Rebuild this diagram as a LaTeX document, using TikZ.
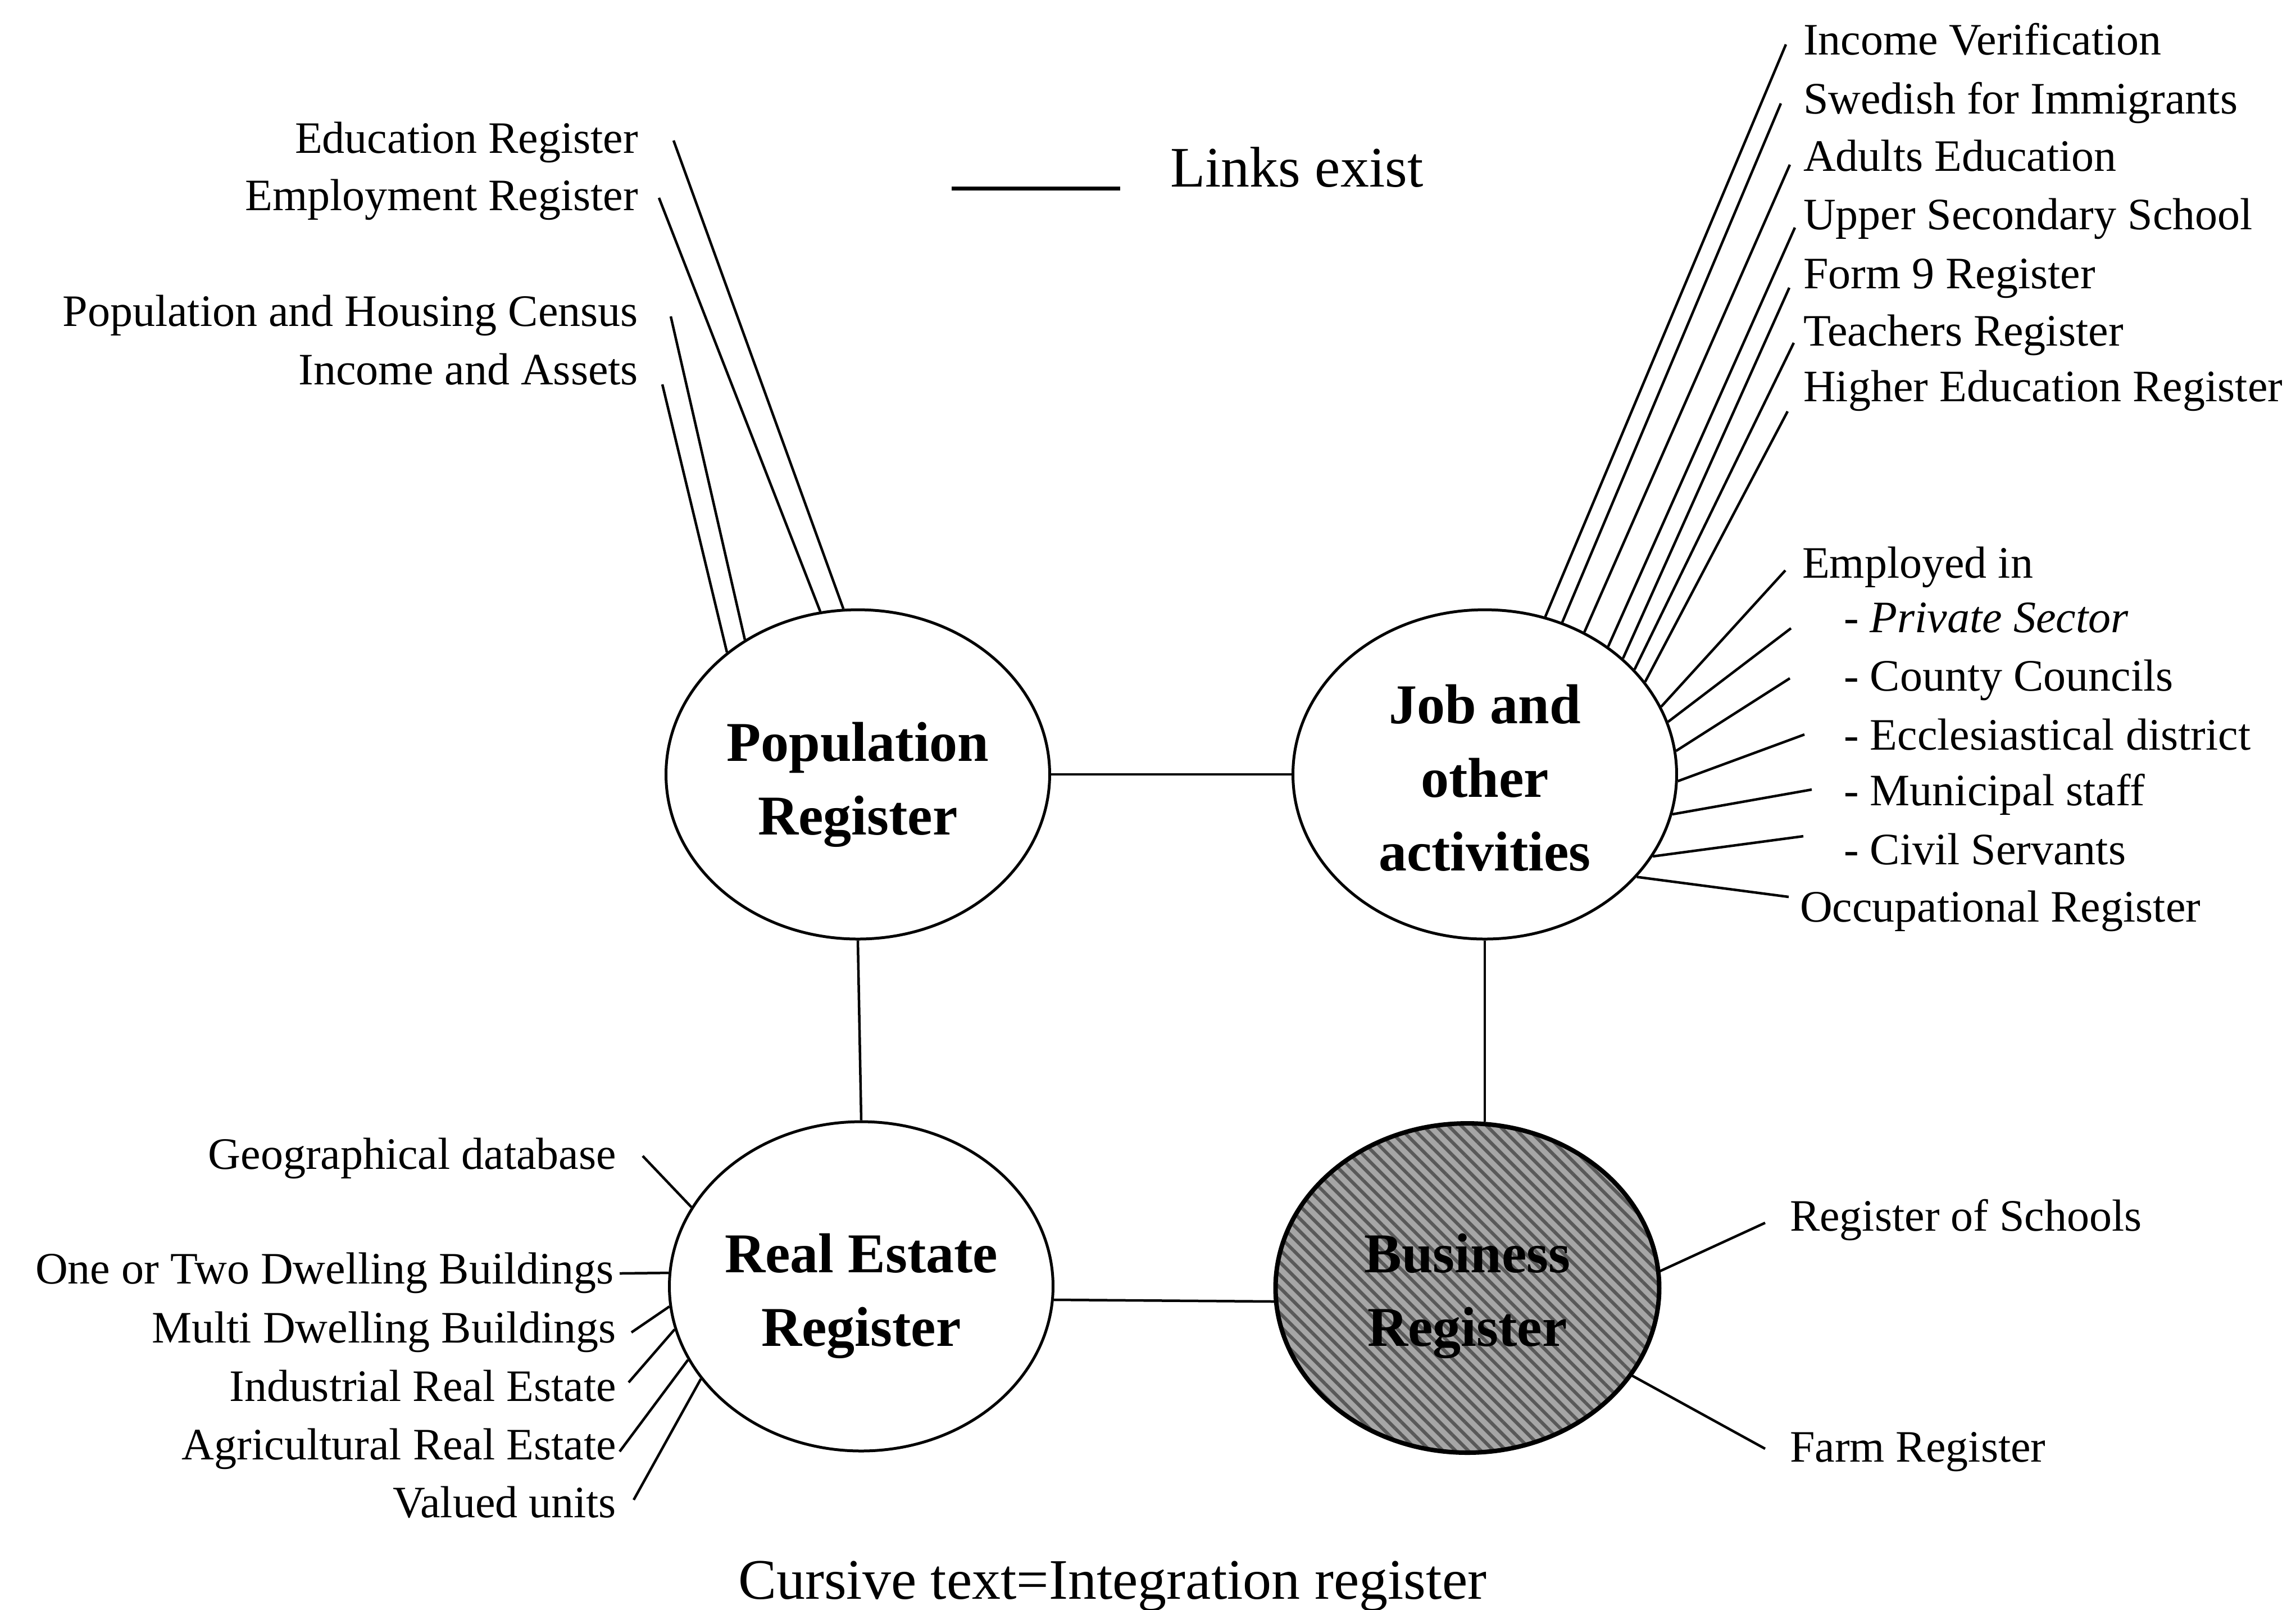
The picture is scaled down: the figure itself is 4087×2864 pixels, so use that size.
\documentclass[tikz,border=0pt]{standalone}
\usepackage{fontspec}
\setmainfont{Liberation Serif}
\usetikzlibrary{shapes.geometric,patterns.meta}

\begin{document}
\begin{tikzpicture}[x=0.1pt,y=-0.1pt,
  reg/.style={ellipse, draw, line width=0.5pt, minimum width=68.3pt,
    minimum height=58.6pt, inner sep=0pt},
  regshade/.style={reg, line width=0.8pt,
    preaction={fill=black!35},
    pattern={Lines[angle=-45,distance=1.6pt,line width=0.6pt]},
    pattern color=black!65},
  regtext/.style={align=center, inner sep=0pt,
    font=\fontsize{10}{13.1}\selectfont\bfseries},
  lbl/.style={inner sep=0pt, font=\fontsize{8}{10}\selectfont},
  lblr/.style={lbl, anchor=base east},
  lbll/.style={lbl, anchor=base west},
  big/.style={inner sep=0pt, anchor=base west, font=\fontsize{10.2}{12}\selectfont},
  link/.style={line width=0.45pt}]

\useasboundingbox (0,0) rectangle (4087,2864);

% the four registers
\node[reg] (pop) at (1527,1378) {};
\node[reg] (job) at (2643,1378) {};
\node[reg] (re)  at (1533,2289) {};
\node[regshade] (bus) at (2612,2292) {};

\node[regtext, yshift=-1.8pt] (popname) at (pop) {Population\\Register};
\node[regtext, yshift=-0.6pt] (jobname) at (job) {Job and\\other\\activities};
\node[regtext, yshift=-1.7pt] (rename)  at (re)  {Real Estate\\Register};
\node[regtext, yshift=-1.4pt] (busname) at (bus) {Business\\Register};

% links between the registers
\draw[link] (pop.east) -- (job.west);
\draw[link] (pop.south) -- (re.north);
\draw[link] (job.south) -- (job.south |- bus.north);
\draw[link] (re.-4.5) -- (bus.184.5);

% legend and caption
\coordinate (legA) at (1694,335);
\coordinate (legB) at (1994,335);
\draw[line width=0.7pt] (legA) -- (legB);
\node[big] (legtext) at (2081,332) {Links exist};
\node[big] (caption) at (1312,2845) {Cursive text=Integration register};

% registers linked to the population register
\node[lblr] (edu) at (1138,272) {Education Register};
\node[lblr] (emp) at (1138,374) {Employment Register};
\node[lblr] (phc) at (1138,580) {Population and Housing Census};
\node[lblr] (inc) at (1138,684) {Income and Assets};
\coordinate (eduE) at (1199,250);
\coordinate (empE) at (1173,352);
\coordinate (phcE) at (1194,563);
\coordinate (incE) at (1179,684);
\draw[link] (pop.95.2) -- (eduE);
\draw[link] (pop.103.7) -- (empE);
\draw[link] (pop.130) -- (phcE);
\draw[link] (pop.137.9) -- (incE);

% registers linked to jobs and other activities
\node[lbll] (ver) at (3208,97)  {Income Verification};
\node[lbll] (sfi) at (3208,202) {Swedish for Immigrants};
\node[lbll] (adu) at (3208,304) {Adults Education};
\node[lbll] (uss) at (3208,408) {Upper Secondary School};
\node[lbll] (fo9) at (3208,513) {Form 9 Register};
\node[lbll] (tea) at (3208,615) {Teachers Register};
\node[lbll] (hed) at (3208,714) {Higher Education Register};
\coordinate (verE) at (3179,79);
\coordinate (sfiE) at (3170,184);
\coordinate (aduE) at (3186,293);
\coordinate (ussE) at (3195,405);
\coordinate (fo9E) at (3185,512);
\coordinate (teaE) at (3193,610);
\coordinate (hedE) at (3182,732);
\draw[link] (job.69.7) -- (verE);
\draw[link] (job.63.3) -- (sfiE);
\draw[link] (job.55.4) -- (aduE);
\draw[link] (job.46.1) -- (ussE);
\draw[link] (job.40.2) -- (fo9E);
\draw[link] (job.35.1) -- (teaE);
\draw[link] (job.30.8) -- (hedE);

\node[lbll] (emi) at (3206,1028) {Employed in};
\node[lbll] (prs) at (3280,1125) {- \textit{Private Sector}};
\node[lbll] (coc) at (3280,1229) {- County Councils};
\node[lbll] (ecd) at (3280,1334) {- Ecclesiastical district};
\node[lbll] (mun) at (3280,1433) {- Municipal staff};
\node[lbll] (civ) at (3280,1538) {- Civil Servants};
\node[lbll] (occ) at (3202,1640) {Occupational Register};
\coordinate (emiE) at (3178,1015);
\coordinate (prsE) at (3188,1118);
\coordinate (cocE) at (3186,1207);
\coordinate (ecdE) at (3212,1307);
\coordinate (munE) at (3225,1405);
\coordinate (civE) at (3210,1488);
\coordinate (occE) at (3184,1596);
\draw[link] (job.21.9) -- (emiE);
\draw[link] (job.16.8) -- (prsE);
\draw[link] (job.7.0) -- (cocE);
\draw[link] (job.-2.3) -- (ecdE);
\draw[link] (job.-12.1) -- (munE);
\draw[link] (job.-26.3) -- (civE);
\draw[link] (job.-34.6) -- (occE);

% registers linked to the real estate register
\node[lblr] (geo) at (1099,2080) {Geographical database};
\node[lblr] (otd) at (1095,2284) {One or Two Dwelling Buildings};
\node[lblr] (mdb) at (1099,2389) {Multi Dwelling Buildings};
\node[lblr] (ire) at (1099,2493) {Industrial Real Estate};
\node[lblr] (are) at (1099,2597) {Agricultural Real Estate};
\node[lblr] (val) at (1099,2700) {Valued units};
\coordinate (geoE) at (1144,2057);
\coordinate (otdE) at (1103,2266);
\coordinate (mdbE) at (1124,2371);
\coordinate (ireE) at (1119,2460);
\coordinate (areE) at (1103,2583);
\coordinate (valE) at (1128,2669);
\draw[link] (re.155.6) -- (geoE);
\draw[link] (re.176.2) -- (otdE);
\draw[link] (re.186.7) -- (mdbE);
\draw[link] (re.193.6) -- (ireE);
\draw[link] (re.203.9) -- (areE);
\draw[link] (re.210.7) -- (valE);

% registers linked to the business register
\node[lbll] (ros) at (3184,2190) {Register of Schools};
\node[lbll] (frm) at (3184,2601) {Farm Register};
\coordinate (rosE) at (3142,2176);
\coordinate (frmE) at (3142,2578);
\draw[link] (bus.5.3) -- (rosE);
\draw[link] (bus.-28.1) -- (frmE);

\end{tikzpicture}
\end{document}
